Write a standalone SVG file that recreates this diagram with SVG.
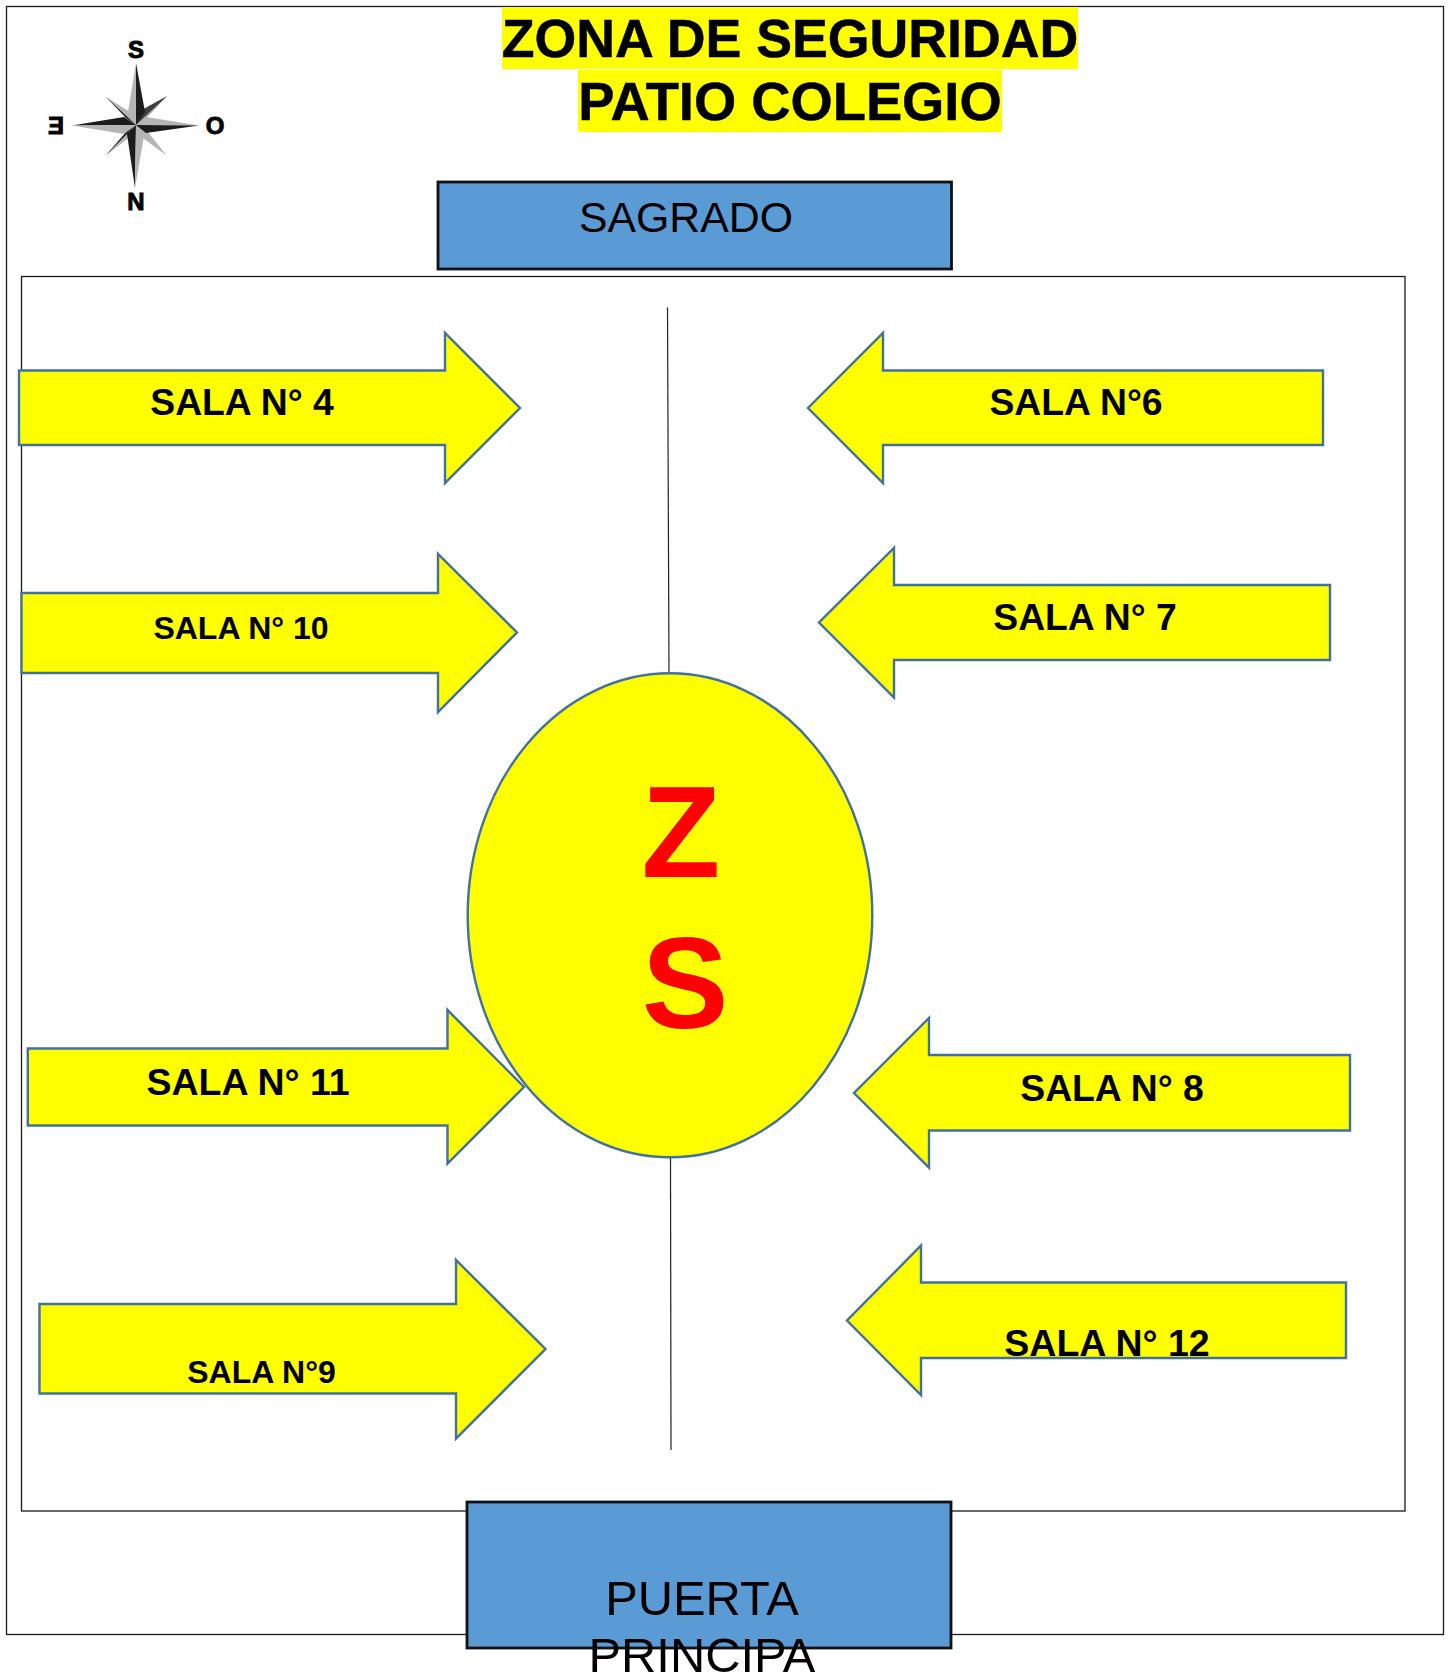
<svg xmlns="http://www.w3.org/2000/svg" width="1450" height="1674" viewBox="0 0 1450 1674">
<style>
text{font-family:"Liberation Sans",Arial,sans-serif;fill:#000}
.b{font-weight:bold}
.frame{fill:none;stroke:#1a1a1a;stroke-width:1.3}
.arrow,.oval{fill:#ffff00;stroke:#41719c;stroke-width:2.4}
.box{fill:#5b9bd5;stroke:#111;stroke-width:2.8}
.div{fill:none;stroke:#222;stroke-width:1.2}
.t{font-weight:bold;text-anchor:middle}
.m{text-anchor:middle}
.c{stroke:#000;stroke-width:.9}
.h{stroke:#000;stroke-width:.5}
.dk{fill:#1c1c1c}.lt{fill:#b5b5b5}
</style>
<rect width="1450" height="1674" fill="#fff"/>
<rect class="frame" x="6.5" y="6.5" width="1437" height="1628"/>
<rect class="frame" x="21.5" y="276.5" width="1383.5" height="1234.5"/>
<g id="title">
<rect x="502" y="7" width="576" height="62" fill="#ff0"/>
<rect x="578" y="70" width="424" height="62" fill="#ff0"/>
<text class="t h" x="790" y="56.500" font-size="53.700">ZONA DE SEGURIDAD</text>
<text class="t h" x="790" y="120" font-size="54.300">PATIO COLEGIO</text>
</g>
<g id="compass">
<rect x="45" y="28" width="190" height="195" fill="#fefefe"/>
<polygon class="dk" points="167,96 146,118 136,125 129,117" opacity=".85"/>
<polygon class="lt" points="167,96 144,120 136,125"/>
<polygon class="dk" points="106,97 128,113 136,125 126,118"/>
<polygon class="lt" points="106,97 130,112 136,125"/>
<polygon class="dk" points="106,155 127,131 136,125 130,136"/>
<polygon class="lt" points="106,155 130,137 136,125"/>
<polygon class="dk" points="166,155 143,134 136,125 146,133"/>
<polygon class="lt" points="166,155 140,136 136,125 148,132"/>
<polygon class="lt" points="136,63 128,112 136,125"/>
<polygon class="dk" points="136,63 145,112 136,125"/>
<polygon class="dk" points="135,188 127,134 136,125"/>
<polygon class="lt" points="135,188 144,136 136,125"/>
<polygon class="dk" points="72,125.500 124,117 136,125"/>
<polygon class="lt" points="72,125.500 124,134 136,125"/>
<polygon class="lt" points="199,125.500 146,117 136,125"/>
<polygon class="dk" points="199,125.500 146,133 136,125"/>
<text class="t c" x="136" y="58" font-size="24">S</text>
<text class="t c" x="136" y="210" font-size="24">N</text>
<text class="t c" x="215" y="134" font-size="24">O</text>
<text class="t c" transform="translate(56,134) scale(-1,1)" font-size="24">E</text>
</g>
<g id="connectors">
<line class="div" x1="667.500" y1="307.500" x2="669" y2="673"/>
<line class="div" x1="670.500" y1="1157.500" x2="671" y2="1450"/>
</g>
<g id="sagrado">
<rect class="box" x="438" y="182" width="513.500" height="87"/>
<text class="m" x="686" y="231.500" font-size="42.800">SAGRADO</text>
</g>
<g id="sala4"><polygon class="arrow" points="19,370.500 445,370.500 445,333 520,408 445,483 445,445 19,445"/><text class="t" x="242" y="415" font-size="37.300">SALA N° 4</text></g>
<g id="sala10"><polygon class="arrow" points="21.500,593 438,593 438,554 517,632.500 438,712 438,673 21.500,673"/><text class="t" x="241" y="638.500" font-size="32">SALA N° 10</text></g>
<g id="zs"><ellipse class="oval" cx="670" cy="915.300" rx="202.300" ry="242"/>
<text x="681" y="877" font-size="129" class="b" text-anchor="middle" style="fill:#ff0000">Z</text>
<text x="685" y="1028" font-size="130" class="b" text-anchor="middle" style="fill:#ff0000">S</text></g>
<g id="sala11"><polygon class="arrow" points="27.800,1048.500 447.500,1048.500 447.500,1010 524,1087 447.500,1163.500 447.500,1125.500 27.800,1125.500"/><text class="t" x="248" y="1094.500" font-size="37.500">SALA N° 11</text></g>
<g id="sala9"><polygon class="arrow" points="39.500,1304 456,1304 456,1260 545.500,1349 456,1438.500 456,1393.500 39.500,1393.500"/><text class="t" x="261.500" y="1382.500" font-size="32">SALA N°9</text></g>
<g id="sala6"><polygon class="arrow" points="1323,370.500 883,370.500 883,333 808,408 883,483 883,445 1323,445"/><text class="t" x="1076" y="415" font-size="37.300">SALA N°6</text></g>
<g id="sala7"><polygon class="arrow" points="1330,585 894,585 894,548 819,622.500 894,697.500 894,660 1330,660"/><text class="t" x="1085" y="630" font-size="37.300">SALA N° 7</text></g>
<g id="sala8"><polygon class="arrow" points="1350,1055 929,1055 929,1018 854,1093 929,1167.500 929,1130.500 1350,1130.500"/><text class="t" x="1112" y="1100.500" font-size="37.300">SALA N° 8</text></g>
<g id="sala12"><polygon class="arrow" points="1346,1282.500 921,1282.500 921,1245.500 847,1320.500 921,1395 921,1358 1346,1358"/><text class="t" x="1107" y="1355.500" font-size="37.500">SALA N° 12</text></g>
<g id="puerta">
<rect class="box" x="467" y="1502" width="484" height="146"/>
<text class="m" x="702" y="1615" font-size="48.800">PUERTA</text>
<text class="m" x="702" y="1672" font-size="48.800">PRINCIPA</text>
</g>
</svg>
